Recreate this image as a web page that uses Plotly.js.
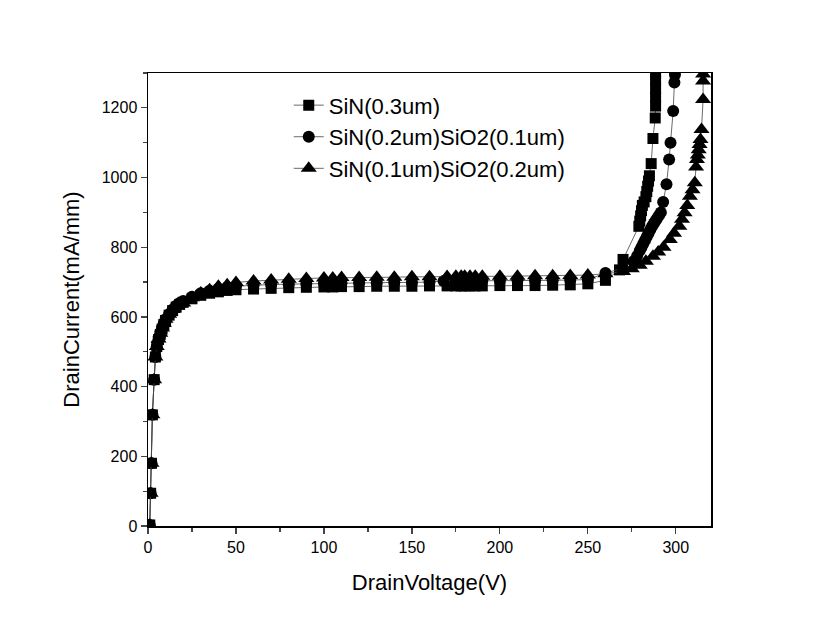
<!DOCTYPE html>
<html>
<head>
<meta charset="utf-8">
<script src="https://cdn.plot.ly/plotly-3.0.1.min.js"></script>
<style>
html,body{margin:0;padding:0;background:#fff;}
#chart{width:827px;height:632px;}
</style>
</head>
<body>
<div id="chart"></div>
<script>
// Series names
const seriesNames = ["SiN(0.3um)", "SiN(0.2um)SiO2(0.1um)", "SiN(0.1um)SiO2(0.2um)"];

// SiN(0.3um) - squares
const xSquare = [1,1.5,2,2.5,3.5,4.2,5,6,7,8,9,10,12,14,16,18,20,25,30,35,40,45,50,60,70,80,90,100,105,110,120,130,140,150,160,170,175,178,180,183,186,190,200,210,220,230,240,250,260,268,270,279,279.5,280,280.5,281,282,283,283.5,284,284.5,285,286,287,288.3,288.5,288.5,288.5,288.5,288.5];
const ySquare = [3,94,180,319,420,485,515,535,550,565,578,590,605,618,628,636,642,652,662,668,672,676,678,680,682,684,685,686,686,687,687,688,688,688,689,689,689,689,689,689,689,689,690,690,690,691,692,695,705,735,765,860,875,890,905,920,930,945,960,975,990,1005,1040,1112,1171,1205,1230,1255,1280,1300];

// SiN(0.2um)SiO2(0.1um) - circles
const xCircle = [1,1.5,2,2.5,3.5,4.2,5,6,7,8,9,10,12,14,16,18,20,25,30,35,40,45,50,60,70,80,90,100,105,110,120,130,140,150,160,168,175,178,180,183,186,190,200,210,220,230,240,250,260,270,276,278,279.5,280.5,281.5,282.5,283.5,284.5,285.5,286.5,287.5,288.5,289.5,290.5,291.5,292.8,294.7,296.2,297,298.5,299.2,299.5];
const yCircle = [3,94,180,319,420,485,515,537,553,568,581,593,608,621,632,640,646,658,668,675,681,685,688,691,693,694,695,696,697,697,698,698,699,699,700,703,703,703,703,704,704,704,704,705,705,705,706,707,726,740,760,775,790,800,810,820,830,840,850,860,868,876,884,892,900,930,981,1052,1100,1191,1273,1295];

// SiN(0.1um)SiO2(0.2um) - triangles
const xTriangle = [1,1.5,2,2.5,3.5,4.2,5,6,7,8,9,10,12,14,16,18,20,25,30,35,40,45,50,60,70,80,90,100,105,110,120,130,140,150,160,170,175,178,180,183,186,190,200,210,220,230,240,250,260,270,275,279.5,283,287,290,293,296.6,299,302,303.5,305,306.5,308,309.5,310.8,311.5,312,312.5,313,313.5,314,314.6,315.5,315.5,315.5];
const yTriangle = [3,94,180,319,420,485,515,537,553,568,581,593,608,621,632,638,640,655,669,678,688,692,699,703,706,708,710,712,712,713,713,714,714,715,715,716,717,717,717,717,717,717,717,717,718,718,719,720,724,730,738,748,760,774,786,800,822,840,860,880,899,920,946,965,985,1030,1052,1065,1080,1095,1109,1138,1224,1277,1297];

// Axis ticks
const xTickVals = [0,50,100,150,200,250,300];
const yTickVals = [0,200,400,600,800,1000,1200];
const xTitle = "DrainVoltage(V)";
const yTitle = "DrainCurrent(mA/mm)";

const FONT = "Arial, 'Liberation Sans', sans-serif";

function dataTrace(name, x, y, symbol, size){
  return {x:x, y:y, name:name, type:'scatter', mode:'lines+markers', showlegend:true,
    line:{color:'#444', width:0.8}, marker:{symbol:symbol, size:size, color:'#000'}};
}

const data = [
  dataTrace(seriesNames[0], xSquare, ySquare, 'square', 11),
  dataTrace(seriesNames[1], xCircle, yCircle, 'circle', 12),
  dataTrace(seriesNames[2], xTriangle, yTriangle, 'triangle-up', 14)
];

const layout = {
  width:827, height:632,
  paper_bgcolor:'#fff', plot_bgcolor:'#fff',
  margin:{l:148, r:116, t:73, b:106},
  font:{family:FONT, color:'#000'},
  showlegend:true,
  legend:{x:0.25, y:0.975, xanchor:'left', yanchor:'top', bgcolor:'rgba(0,0,0,0)',
    font:{family:FONT, size:22, color:'#000'}, borderwidth:0, itemsizing:'trace'},
  xaxis:{range:[0,320], tickvals:xTickVals, ticks:'outside', ticklen:6, tickwidth:1.2,
    showline:true, mirror:true, linecolor:'#000', linewidth:1.5, showgrid:false, zeroline:false,
    tickfont:{family:FONT, size:16, color:'#000'},
    minor:{dtick:25, tick0:0, ticks:'outside', ticklen:4, tickwidth:1.2, showgrid:false},
    title:{text:xTitle, font:{family:FONT, size:22, color:'#000'}, standoff:20}},
  yaxis:{range:[0,1300], tickvals:yTickVals, ticks:'outside', ticklen:6, tickwidth:1.2,
    showline:true, mirror:true, linecolor:'#000', linewidth:1.5, showgrid:false, zeroline:false,
    tickfont:{family:FONT, size:16, color:'#000'},
    minor:{dtick:100, tick0:0, ticks:'outside', ticklen:4, tickwidth:1.2, showgrid:false},
    title:{text:yTitle, font:{family:FONT, size:22, color:'#000'}, standoff:16}}
};

Plotly.newPlot('chart', data, layout, {staticPlot:true, displayModeBar:false});
</script>
</body>
</html>
